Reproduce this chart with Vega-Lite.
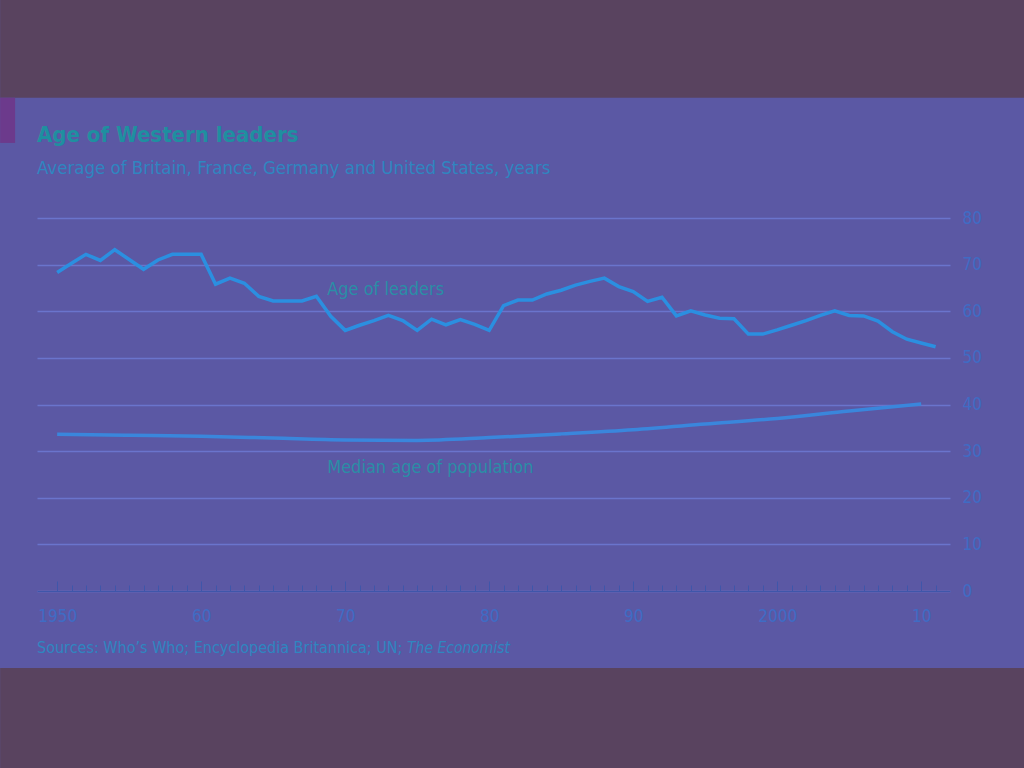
{
  "$schema": "https://vega.github.io/schema/vega-lite/v6.json",
  "width": 913,
  "height": 373,
  "autosize": {"type": "none"},
  "padding": {"left": 37, "top": 218, "right": 74, "bottom": 177},
  "background": "#5b58a4",
  "config": {
    "view": {"stroke": null},
    "font": "Liberation Sans Narrow, DejaVu Sans Condensed, sans-serif"
  },
  "datasets": {
    "one": [{}],
    "leaders": [
      {"year": 1950, "age": 68.3}, {"year": 1951, "age": 70.3}, {"year": 1952, "age": 72.2},
      {"year": 1953, "age": 70.9}, {"year": 1954, "age": 73.2}, {"year": 1955, "age": 71.1},
      {"year": 1956, "age": 69.0}, {"year": 1957, "age": 71.0}, {"year": 1958, "age": 72.2},
      {"year": 1959, "age": 72.2}, {"year": 1960, "age": 72.2}, {"year": 1961, "age": 65.8},
      {"year": 1962, "age": 67.1}, {"year": 1963, "age": 66.0}, {"year": 1964, "age": 63.2},
      {"year": 1965, "age": 62.2}, {"year": 1966, "age": 62.2}, {"year": 1967, "age": 62.2},
      {"year": 1968, "age": 63.2}, {"year": 1969, "age": 58.9}, {"year": 1970, "age": 55.9},
      {"year": 1971, "age": 57.0}, {"year": 1972, "age": 58.0}, {"year": 1973, "age": 59.1},
      {"year": 1974, "age": 58.0}, {"year": 1975, "age": 55.9}, {"year": 1976, "age": 58.3},
      {"year": 1977, "age": 57.1}, {"year": 1978, "age": 58.2}, {"year": 1979, "age": 57.2},
      {"year": 1980, "age": 55.9}, {"year": 1981, "age": 61.2}, {"year": 1982, "age": 62.4},
      {"year": 1983, "age": 62.4}, {"year": 1984, "age": 63.7}, {"year": 1985, "age": 64.5},
      {"year": 1986, "age": 65.6}, {"year": 1987, "age": 66.4}, {"year": 1988, "age": 67.1},
      {"year": 1989, "age": 65.3}, {"year": 1990, "age": 64.2}, {"year": 1991, "age": 62.1},
      {"year": 1992, "age": 63.0}, {"year": 1993, "age": 59.0}, {"year": 1994, "age": 60.1},
      {"year": 1995, "age": 59.2}, {"year": 1996, "age": 58.5}, {"year": 1997, "age": 58.4},
      {"year": 1998, "age": 55.1}, {"year": 1999, "age": 55.1}, {"year": 2000, "age": 56.0},
      {"year": 2001, "age": 57.0}, {"year": 2002, "age": 58.0}, {"year": 2003, "age": 59.1},
      {"year": 2004, "age": 60.1}, {"year": 2005, "age": 59.1}, {"year": 2006, "age": 59.0},
      {"year": 2007, "age": 57.9}, {"year": 2008, "age": 55.6}, {"year": 2009, "age": 54.0},
      {"year": 2010, "age": 53.2}, {"year": 2011, "age": 52.4}
    ],
    "median": [
      {"year": 1950, "age": 33.6}, {"year": 1955, "age": 33.4}, {"year": 1960, "age": 33.2},
      {"year": 1965, "age": 32.8}, {"year": 1970, "age": 32.4}, {"year": 1975, "age": 32.3},
      {"year": 1980, "age": 32.9}, {"year": 1985, "age": 33.7}, {"year": 1990, "age": 34.6},
      {"year": 1995, "age": 35.8}, {"year": 2000, "age": 37.0}, {"year": 2005, "age": 38.6},
      {"year": 2010, "age": 40.1}
    ]
  },
  "layer": [
    {
      "data": {"name": "one"},
      "mark": {"type": "rect", "color": "#59435f", "clip": false},
      "encoding": {
        "x": {"datum": 1946.04, "type": "quantitative"},
        "x2": {"datum": 2017.2},
        "y": {"datum": 126.9, "type": "quantitative"},
        "y2": {"datum": 105.8}
      }
    },
    {
      "data": {"name": "one"},
      "mark": {"type": "rect", "color": "#59435f", "clip": false},
      "encoding": {
        "x": {"datum": 1946.04, "type": "quantitative"},
        "x2": {"datum": 2017.2},
        "y": {"datum": -16.5, "type": "quantitative"},
        "y2": {"datum": -38.1}
      }
    },
    {
      "data": {"name": "one"},
      "mark": {"type": "rect", "color": "#6c3a8c", "clip": false},
      "encoding": {
        "x": {"datum": 1946.04, "type": "quantitative"},
        "x2": {"datum": 1947.08},
        "y": {"datum": 105.8, "type": "quantitative"},
        "y2": {"datum": 96.1}
      }
    },
    {
      "data": {"name": "leaders"},
      "mark": {"type": "line", "color": "#2b8fe0", "strokeWidth": 3.5, "strokeJoin": "miter"},
      "encoding": {
        "x": {
          "field": "year",
          "type": "quantitative",
          "scale": {"domain": [1948.6, 2012.0], "nice": false, "zero": false},
          "axis": {
            "title": null,
            "tickCount": 200,
            "values": [1950,1951,1952,1953,1954,1955,1956,1957,1958,1959,1960,1961,1962,1963,1964,1965,1966,1967,1968,1969,1970,1971,1972,1973,1974,1975,1976,1977,1978,1979,1980,1981,1982,1983,1984,1985,1986,1987,1988,1989,1990,1991,1992,1993,1994,1995,1996,1997,1998,1999,2000,2001,2002,2003,2004,2005,2006,2007,2008,2009,2010,2011],
            "labelExpr": "datum.value % 10 === 0 ? ((datum.value === 1950 || datum.value === 2000) ? '' + datum.value : slice('' + datum.value, 2)) : ''",
            "tickSize": {"condition": {"test": "datum.value % 10 === 0", "value": -10}, "value": -6},
            "tickColor": "#3f56aa",
            "tickWidth": 1,
            "domainColor": "#3f56aa",
            "domainWidth": 1.2,
            "labelPadding": 27,
            "labelFontSize": 17,
            "labelColor": "#3f6cc4",
            "labelFont": "Liberation Sans Narrow, DejaVu Sans Condensed, sans-serif",
            "labelOverlap": false,
            "labelFlush": false,
            "grid": false
          }
        },
        "y": {
          "field": "age",
          "type": "quantitative",
          "scale": {"domain": [0, 80], "nice": false},
          "axis": {
            "title": null,
            "orient": "right",
            "values": [0, 10, 20, 30, 40, 50, 60, 70, 80],
            "tickCount": 20,
            "grid": true,
            "gridColor": "#6a74cc",
            "gridWidth": 1.5,
            "domain": false,
            "ticks": false,
            "labelPadding": 12,
            "labelFontSize": 17,
            "labelColor": "#3f6cc4",
            "labelFont": "Liberation Sans Narrow, DejaVu Sans Condensed, sans-serif"
          }
        }
      }
    },
    {
      "data": {"name": "median"},
      "mark": {"type": "line", "color": "#3a86dc", "strokeWidth": 3.5, "interpolate": "monotone"},
      "encoding": {
        "x": {"field": "year", "type": "quantitative"},
        "y": {"field": "age", "type": "quantitative"}
      }
    },
    {
      "data": {"name": "one"},
      "mark": {"type": "text", "text": "Age of Western leaders", "align": "left", "baseline": "middle", "fontSize": 22, "fontWeight": "bold", "color": "#1f8fa0", "clip": false},
      "encoding": {
        "x": {"datum": 1948.6, "type": "quantitative"},
        "y": {"datum": 97.85, "type": "quantitative"}
      }
    },
    {
      "data": {"name": "one"},
      "mark": {"type": "text", "text": "Average of Britain, France, Germany and United States, years", "align": "left", "baseline": "middle", "fontSize": 18.5, "color": "#2f86c0", "clip": false},
      "encoding": {
        "x": {"datum": 1948.6, "type": "quantitative"},
        "y": {"datum": 90.77, "type": "quantitative"}
      }
    },
    {
      "data": {"name": "one"},
      "mark": {"type": "text", "text": "Age of leaders", "align": "left", "baseline": "middle", "fontSize": 18, "color": "#2a8ea6"},
      "encoding": {
        "x": {"datum": 1968.75, "type": "quantitative"},
        "y": {"datum": 64.6, "type": "quantitative"}
      }
    },
    {
      "data": {"name": "one"},
      "mark": {"type": "text", "text": "Median age of population", "align": "left", "baseline": "middle", "fontSize": 18, "color": "#2a8ea6"},
      "encoding": {
        "x": {"datum": 1968.75, "type": "quantitative"},
        "y": {"datum": 26.4, "type": "quantitative"}
      }
    },
    {
      "data": {"name": "one"},
      "mark": {"type": "text", "text": "Sources: Who’s Who; Encyclopedia Britannica; UN;", "align": "left", "baseline": "middle", "fontSize": 16, "color": "#2f86c0", "clip": false},
      "encoding": {
        "x": {"datum": 1948.6, "type": "quantitative"},
        "y": {"datum": -12.2, "type": "quantitative"}
      }
    },
    {
      "data": {"name": "one"},
      "mark": {"type": "text", "text": "The Economist", "align": "left", "baseline": "middle", "fontSize": 15.5, "fontStyle": "italic", "color": "#2f86c0", "clip": false},
      "encoding": {
        "x": {"datum": 1974.3, "type": "quantitative"},
        "y": {"datum": -12.2, "type": "quantitative"}
      }
    }
  ]
}
